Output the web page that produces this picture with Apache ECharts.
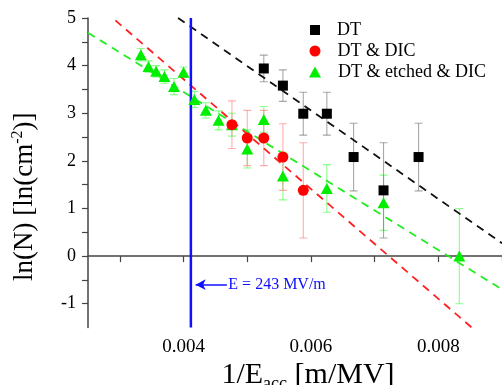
<!DOCTYPE html>
<html>
<head>
<meta charset="utf-8">
<script src="https://cdn.jsdelivr.net/npm/echarts@6/dist/echarts.min.js"></script>
<style>html,body{margin:0;padding:0;background:#fff}#c{width:502px;height:385px}</style>
</head>
<body>
<div id="c"></div>
<script>
// ---- data ----
const dtX   = [0.00526, 0.00556, 0.00588, 0.00625, 0.00667, 0.00714, 0.00769];
const dtY   = [3.94, 3.58, 2.99, 2.99, 2.08, 1.38, 2.08];
const dtErr = [0.28, 0.33, 0.45, 0.45, 0.71, 1.0, 0.71];

const dicX   = [0.00476, 0.00500, 0.00526, 0.00556, 0.00588];
const dicY   = [2.76, 2.48, 2.48, 2.08, 1.38];
const dicErr = [0.50, 0.58, 0.58, 0.70, 1.0];

const etX   = [0.00333, 0.00345, 0.00357, 0.00370, 0.00385, 0.00400, 0.00417, 0.00435, 0.00455, 0.00476, 0.00500, 0.00526, 0.00556, 0.00625, 0.00714, 0.00833];
const etY   = [4.23, 3.98, 3.88, 3.77, 3.56, 3.86, 3.29, 3.06, 2.85, 2.76, 2.25, 2.87, 1.68, 1.42, 1.12, 0.0];
const etErr = [0.13, 0.12, 0.12, 0.14, 0.17, 0.11, 0.17, 0.16, 0.2, 0.24, 0.4, 0.27, 0.5, 0.5, 0.58, 1.0];

// fitted lines (endpoints)
const fitDT  = [[0.003914, 5.0], [0.0090, 0.27]];
const fitDIC = [[0.00293, 4.95], [0.008524, -1.5]];
const fitET  = [[0.0025, 4.69], [0.0090, -0.70]];

const seriesNames = ['DT', 'DT & DIC', 'DT & etched & DIC'];

const eField = 243; // MV/m
const annotY = -0.6;
const annotX = [0.00419, 0.00468];

const xMin = 0.0025, xMax = 0.009, yMin = -1.5, yMax = 5;
const xTicks = [0.003, 0.004, 0.005, 0.006, 0.007, 0.008, 0.009];
const xLabels = [0.004, 0.006, 0.008];
const yTicks = [-1, -0.5, 0, 0.5, 1, 1.5, 2, 2.5, 3, 3.5, 4, 4.5, 5];
const yLabels = [-1, 0, 1, 2, 3, 4, 5];

const serif = "'Liberation Serif', 'Times New Roman', serif";

function pts(xs, ys) { return xs.map((x, i) => [x, ys[i]]); }
function errs(xs, ys, es) { return xs.map((x, i) => [x, ys[i] - es[i], ys[i] + es[i]]); }

function errSeries(data, color) {
  return {
    type: 'custom',
    silent: true,
    z: 1,
    data: data,
    clip: true,
    renderItem: function (params, api) {
      const x = api.value(0);
      const lo = api.coord([x, api.value(1)]);
      const hi = api.coord([x, api.value(2)]);
      const w = 4;
      const style = { stroke: color, lineWidth: 1.1 };
      return {
        type: 'group',
        children: [
          { type: 'line', shape: { x1: lo[0], y1: lo[1], x2: hi[0], y2: hi[1] }, style: style },
          { type: 'line', shape: { x1: lo[0] - w, y1: lo[1], x2: lo[0] + w, y2: lo[1] }, style: style },
          { type: 'line', shape: { x1: hi[0] - w, y1: hi[1], x2: hi[0] + w, y2: hi[1] }, style: style }
        ]
      };
    }
  };
}

function fitSeries(data, color) {
  return {
    type: 'line', data: data, symbol: 'none', silent: true, z: 2,
    lineStyle: { color: color, width: 1.8, type: [8, 6] }
  };
}

// legend entries drawn as pixel-placed markPoints (their labels render in serif)
const legX = 315, legY0 = 30, legDy = 21;
const legSymbols = ['rect', 'circle', 'triangle'];
const legSizes = [10, 11, [12, 11]];
const legColors = ['#000', '#ff0000', '#00ee00'];
const legendPoints = seriesNames.map((n, i) => ({
  name: n, x: legX, y: legY0 + i * legDy,
  symbol: legSymbols[i], symbolSize: legSizes[i],
  itemStyle: { color: legColors[i], opacity: 1 },
  label: { show: true, position: 'right', distance: 17, formatter: n,
    fontFamily: serif, fontSize: 18, color: '#000' }
}));

const chart = echarts.init(document.getElementById('c'));
chart.setOption({
  animation: false,
  backgroundColor: '#fff',
  textStyle: { fontFamily: serif },
  grid: { left: 88, top: 18, width: 414, height: 309.5, containLabel: false, outerBoundsMode: 'none' },
  xAxis: {
    type: 'value', min: xMin, max: xMax,
    axisLine: { show: true, lineStyle: { color: '#444', width: 1.5 } },
    axisTick: { show: true, customValues: xTicks, length: 6, lineStyle: { color: '#444', width: 1.2 } },
    axisLabel: { customValues: xLabels, margin: 10, fontFamily: serif, fontSize: 19, color: '#000',
      formatter: v => v.toFixed(3) },
    splitLine: { show: false },
    name: '1/E{sub|acc} [m/MV]', nameLocation: 'middle', nameGap: 30, nameMoveOverlap: false,
    nameTextStyle: { fontFamily: serif, fontSize: 30, color: '#000', padding: [0, 0, 0, 26], lineHeight: 30,
      rich: { sub: { fontFamily: serif, fontSize: 18, lineHeight: 36, verticalAlign: 'bottom', color: '#000' } } }
  },
  yAxis: {
    type: 'value', min: yMin, max: yMax,
    axisLine: { show: true, lineStyle: { color: '#444', width: 1.5 } },
    axisTick: { show: true, customValues: yTicks, length: 6, lineStyle: { color: '#444', width: 1.2 } },
    axisLabel: { customValues: yLabels, margin: 12, fontFamily: serif, fontSize: 18, color: '#000' },
    splitLine: { show: false },
    name: 'ln(N) [ln(cm{sup|-2})]', nameLocation: 'middle', nameGap: 48, nameRotate: 90, nameMoveOverlap: false,
    nameTextStyle: { fontFamily: serif, fontSize: 27, color: '#000', padding: [0, 48, 0, 0],
      rich: { sup: { fontFamily: serif, fontSize: 16, verticalAlign: 'top', padding: [0, 0, 14, 0], color: '#000' } } }
  },
  series: [
    errSeries(errs(etX, etY, etErr), 'rgba(100,255,100,0.75)'),
    errSeries(errs(dicX, dicY, dicErr), 'rgba(255,120,120,0.6)'),
    errSeries(errs(dtX, dtY, dtErr), 'rgba(110,110,110,0.6)'),
    fitSeries(fitET, '#22ee22'),
    fitSeries(fitDIC, '#ff2020'),
    fitSeries(fitDT, '#111'),
    {
      type: 'line', silent: true, z: 3, symbol: 'none',
      data: [[1 / eField, yMin], [1 / eField, yMax]],
      lineStyle: { color: '#1010ff', width: 2.5 },
      markLine: {
        silent: true, symbolSize: [8, 10],
        lineStyle: { color: '#1010ff', width: 1.5, type: 'solid' },
        label: { show: false },
        data: [[{ coord: [annotX[0], annotY], symbol: 'arrow' }, { coord: [annotX[1], annotY], symbol: 'none' }]]
      },
      markPoint: {
        silent: true,
        data: [{
          coord: [annotX[1], annotY], symbol: 'circle', symbolSize: 1,
          itemStyle: { color: 'rgba(0,0,0,0)' },
          label: { show: true, position: 'right', distance: 1, formatter: 'E = ' + eField + ' MV/m',
            fontFamily: serif, fontSize: 16, color: '#1010ff' }
        }].concat(legendPoints)
      }
    },
    {
      name: seriesNames[2], type: 'scatter', z: 4, symbol: 'triangle', symbolSize: [12, 11],
      itemStyle: { color: '#00ee00', opacity: 1 }, data: pts(etX, etY)
    },
    {
      name: seriesNames[1], type: 'scatter', z: 5, symbol: 'circle', symbolSize: 11,
      itemStyle: { color: '#ff0000', opacity: 1 }, data: pts(dicX, dicY)
    },
    {
      name: seriesNames[0], type: 'scatter', z: 6, symbol: 'rect', symbolSize: 10,
      itemStyle: { color: '#000', opacity: 1 }, data: pts(dtX, dtY)
    }
  ]
});
</script>
</body>
</html>
